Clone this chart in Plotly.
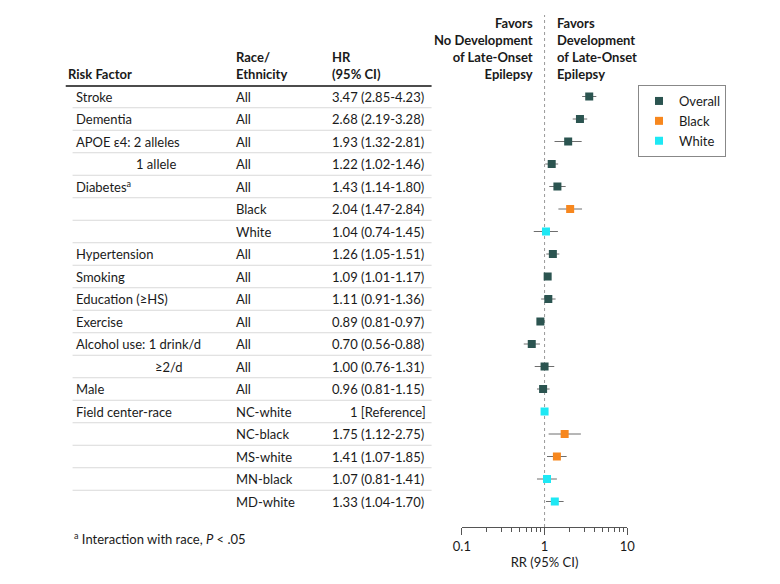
import plotly.graph_objects as go

# table rows, top to bottom
risk_factor = ["Stroke", "Dementia", "APOE ε4: 2 alleles", "1 allele", "Diabetes<sup>a</sup>",
               "", "", "Hypertension", "Smoking", "Education (≥HS)", "Exercise",
               "Alcohol use: 1 drink/d", "≥2/d", "Male", "Field center-race",
               "", "", "", ""]
race = ["All", "All", "All", "All", "All", "Black", "White", "All", "All", "All", "All",
        "All", "All", "All", "NC-white", "NC-black", "MS-white", "MN-black", "MD-white"]
group = ["Overall", "Overall", "Overall", "Overall", "Overall", "Black", "White", "Overall",
         "Overall", "Overall", "Overall", "Overall", "Overall", "Overall", "White",
         "Black", "Black", "White", "White"]
hr = [3.47, 2.68, 1.93, 1.22, 1.43, 2.04, 1.04, 1.26, 1.09, 1.11, 0.89, 0.70, 1.00, 0.96,
      1.00, 1.75, 1.41, 1.07, 1.33]
lo = [2.85, 2.19, 1.32, 1.02, 1.14, 1.47, 0.74, 1.05, 1.01, 0.91, 0.81, 0.56, 0.76, 0.81,
      1.00, 1.12, 1.07, 0.81, 1.04]
hi = [4.23, 3.28, 2.81, 1.46, 1.80, 2.84, 1.45, 1.51, 1.17, 1.36, 0.97, 0.88, 1.31, 1.15,
      1.00, 2.75, 1.85, 1.41, 1.70]
hr_text = ["3.47 (2.85-4.23)", "2.68 (2.19-3.28)", "1.93 (1.32-2.81)", "1.22 (1.02-1.46)",
           "1.43 (1.14-1.80)", "2.04 (1.47-2.84)", "1.04 (0.74-1.45)", "1.26 (1.05-1.51)",
           "1.09 (1.01-1.17)", "1.11 (0.91-1.36)", "0.89 (0.81-0.97)", "0.70 (0.56-0.88)",
           "1.00 (0.76-1.31)", "0.96 (0.81-1.15)", "1 [Reference]", "1.75 (1.12-2.75)",
           "1.41 (1.07-1.85)", "1.07 (0.81-1.41)", "1.33 (1.04-1.70)"]
# rows whose label is indented under the previous label
indented = {"1 allele": 128, "≥2/d": 147}

colors = {"Overall": "#2b5450", "Black": "#f7871e", "White": "#1ee8f4"}
FONT = "Lato"
W, H = 780, 584


def px(x):
    return x / W


def py(y):
    return 1 - y / H


# rows sit at row0 + step*i px; axis spans top_px..bot_px
row0, step = 96.5, 22.5
top_px, bot_px = 15, 527
y_top = (top_px - row0) / step
y_bot = (bot_px - row0) / step

fig = go.Figure()

for g in ["Overall", "Black", "White"]:
    idx = [i for i, gg in enumerate(group) if gg == g]
    fig.add_trace(go.Scatter(
        x=[hr[i] for i in idx],
        y=idx,
        mode="markers",
        name=g,
        marker=dict(symbol="square", size=8, color=colors[g], line=dict(width=0)),
        error_x=dict(type="data", symmetric=False,
                     array=[hi[i] - hr[i] for i in idx],
                     arrayminus=[hr[i] - lo[i] for i in idx],
                     width=0, thickness=1, color="#6e6e6e"),
        hoverinfo="skip",
    ))

# reference line at RR = 1
fig.add_shape(type="line", xref="x", yref="paper", x0=1, x1=1,
              y0=py(bot_px), y1=py(top_px),
              line=dict(color="#999999", width=1, dash="dot"), layer="below")

ann = []
txt = dict(color="#1a1a1a", size=13, family=FONT)

# table header
ann.append(dict(x=px(58), y=py(74), xref="paper", yref="paper", xanchor="left",
                yanchor="middle", showarrow=False, text="<b>Risk Factor</b>", font=txt))
for x, t in [(230, "Race/<br>Ethnicity"), (328, "HR<br>(95% CI)")]:
    ann.append(dict(x=px(x), y=py(65.5), xref="paper", yref="paper", xanchor="left",
                    yanchor="middle", showarrow=False, align="left",
                    text="<b>" + t + "</b>", font=txt))

fig.add_shape(type="line", xref="paper", yref="paper", x0=px(58), x1=px(432),
              y0=py(86), y1=py(86), line=dict(color="#111111", width=1.5))

for i in range(len(race)):
    lab = risk_factor[i]
    if lab:
        ann.append(dict(x=px(indented.get(lab, 66)), y=i, xref="paper", yref="y",
                        xanchor="left", yanchor="middle", showarrow=False,
                        text=lab, font=txt))
    ann.append(dict(x=px(230), y=i, xref="paper", yref="y", xanchor="left",
                    yanchor="middle", showarrow=False, text=race[i], font=txt))
    hx = 347 if hr_text[i].startswith("1 [") else 328
    ann.append(dict(x=px(hx), y=i, xref="paper", yref="y", xanchor="left",
                    yanchor="middle", showarrow=False, text=hr_text[i], font=txt))
    if i < len(race) - 1:
        fig.add_shape(type="line", xref="paper", yref="y", x0=px(65), x1=px(432),
                      y0=i + 0.5, y1=i + 0.5, line=dict(color="#d9d9d9", width=1))

# favors labels
ann.append(dict(x=px(538), y=py(48), xref="paper", yref="paper", xanchor="right",
                yanchor="middle", showarrow=False, align="right",
                text="<b>Favors<br>No Development<br>of Late-Onset<br>Epilepsy</b>", font=txt))
ann.append(dict(x=px(558), y=py(48), xref="paper", yref="paper", xanchor="left",
                yanchor="middle", showarrow=False, align="left",
                text="<b>Favors<br>Development<br>of Late-Onset<br>Epilepsy</b>", font=txt))

# footnote
ann.append(dict(x=px(64), y=py(538), xref="paper", yref="paper", xanchor="left",
                yanchor="middle", showarrow=False,
                text="<sup>a</sup> Interaction with race, <i>P</i> < .05", font=txt))

minor_vals = [k * 0.1 for k in range(2, 10)] + [k for k in range(2, 10)]

fig.update_layout(
    width=W, height=H,
    margin=dict(l=0, r=0, t=0, b=0),
    paper_bgcolor="white", plot_bgcolor="white",
    font=dict(family=FONT, size=13, color="#1a1a1a"),
    annotations=ann,
    showlegend=True,
    legend=dict(x=px(643), y=py(85), xanchor="left", yanchor="top",
                bordercolor="#888888", borderwidth=1, bgcolor="white",
                font=dict(size=13, family=FONT), itemwidth=30,
                tracegroupgap=0),
    xaxis=dict(
        type="log", range=[-1, 1], domain=[px(463), px(632)],
        tickvals=[0.1, 1, 10], ticktext=["0.1", "1", "10"],
        ticks="outside", ticklen=7, tickcolor="#555555",
        showline=True, linecolor="#555555", linewidth=1,
        showgrid=False, zeroline=False,
        minor=dict(tickvals=minor_vals, ticks="outside", ticklen=4, tickcolor="#555555",
                   showgrid=False),
        title=dict(text="RR (95% CI)", standoff=4, font=dict(size=13)),
        tickfont=dict(size=13),
        anchor="y",
    ),
    yaxis=dict(
        range=[y_bot, y_top], domain=[py(bot_px), py(top_px)],
        visible=False, showgrid=False, zeroline=False,
    ),
)

# drop the browser's default body margin so the figure sits at the page origin
fig.write_html("out.html", config={"displayModeBar": False},
               post_script="document.body.style.margin='0';")
